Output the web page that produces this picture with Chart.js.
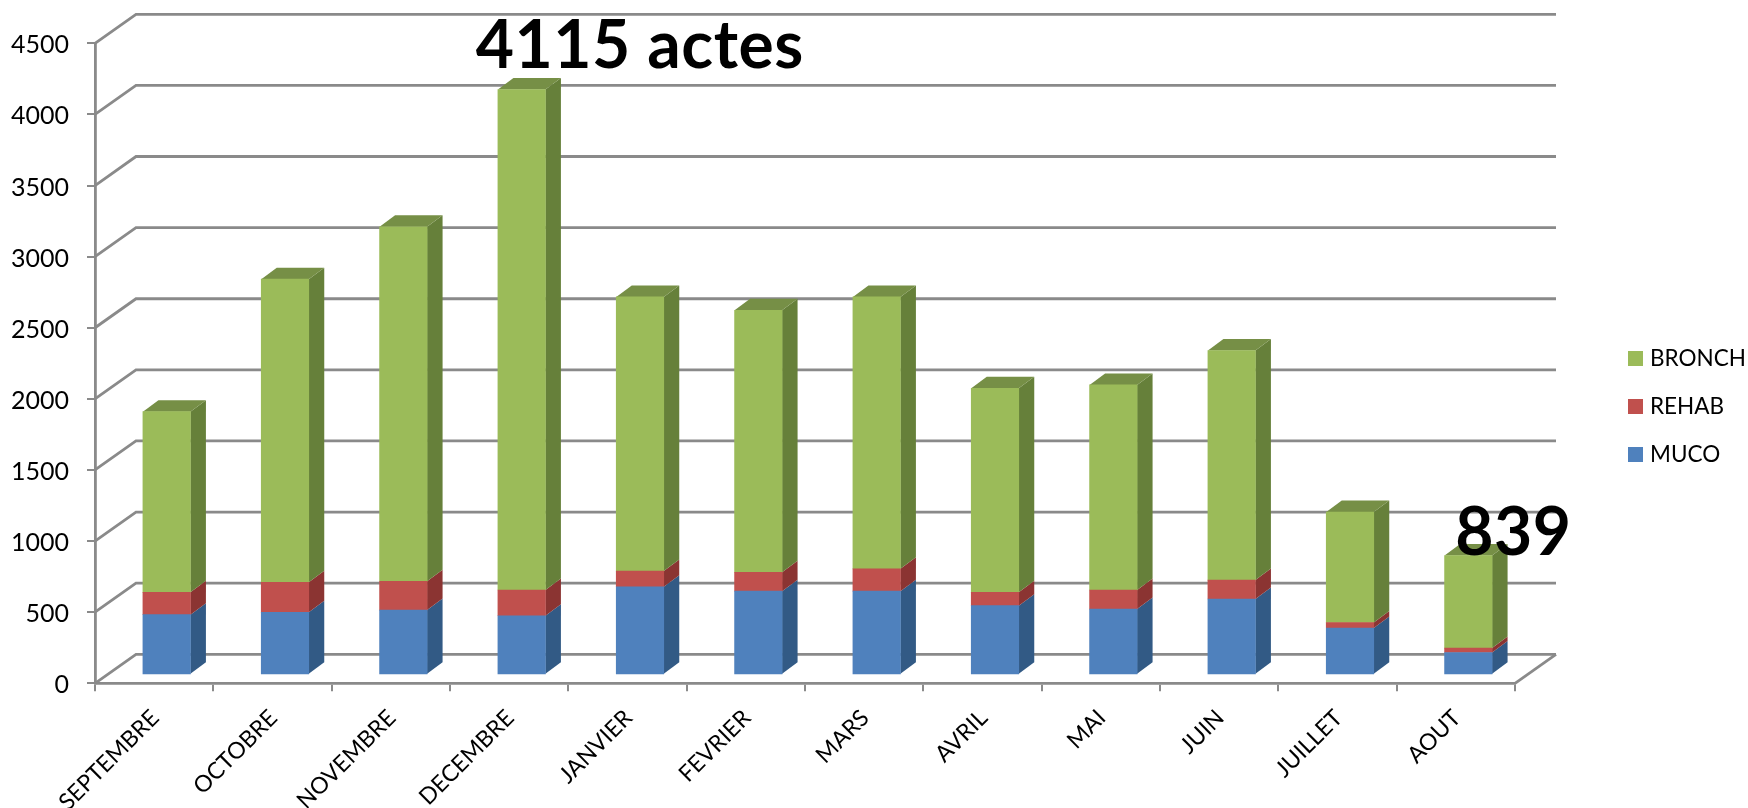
<!DOCTYPE html>
<html>
<head>
<meta charset="utf-8">
<title>Actes par mois</title>
<script src="https://cdn.jsdelivr.net/npm/chart.js@4"></script>
<style>
  html, body { margin: 0; padding: 0; background: #fff; overflow: hidden; }
  canvas { display: block; }
</style>
</head>
<body>
<canvas id="chart" width="1748" height="808"></canvas>
<script>
const months = ['SEPTEMBRE', 'OCTOBRE', 'NOVEMBRE', 'DECEMBRE', 'JANVIER', 'FEVRIER', 'MARS', 'AVRIL', 'MAI', 'JUIN', 'JUILLET', 'AOUT'];
const muco   = [423, 439, 455, 415, 619, 588, 588, 486, 462, 533, 329, 157];
const rehab  = [157, 211, 203, 181, 110, 133, 157, 94, 134, 133, 39, 31];
const bronch = [1270, 2132, 2492, 3519, 1928, 1842, 1912, 1434, 1442, 1614, 776, 651];
const yTicks = [0, 500, 1000, 1500, 2000, 2500, 3000, 3500, 4000, 4500];

const FONT = 'Lato, Carlito, sans-serif';
const AXIS_COLOR = '#8a8a8a';

// Oblique projection: the floor recedes up and to the right.
const WALL_DX = 41, WALL_DY = -29;
const BAR_DX = 12.5, BAR_DY = -8.5;
const SIDE_DX = 15.5, SIDE_DY = -11.5;

const shades = {
  MUCO:   { front: '#4f81bd', side: '#325a85', top: '#3d6798' },
  REHAB:  { front: '#c0504d', side: '#8b3432', top: '#9c403d' },
  BRONCH: { front: '#9bbb59', side: '#66803a', top: '#768f46' }
};

function poly(ctx, pts, fill) {
  ctx.fillStyle = fill;
  ctx.beginPath();
  pts.forEach((p, i) => i ? ctx.lineTo(p[0], p[1]) : ctx.moveTo(p[0], p[1]));
  ctx.closePath();
  ctx.fill();
}

// Back wall rules and floor edges, then the bars' receding faces.
const depthPlugin = {
  id: 'depth',
  beforeDatasetsDraw(chart) {
    const { ctx, chartArea: a, scales: { y } } = chart;
    ctx.save();
    ctx.strokeStyle = AXIS_COLOR;
    ctx.lineWidth = 2.8;
    yTicks.forEach(v => {
      const py = y.getPixelForValue(v);
      ctx.beginPath();
      ctx.moveTo(a.left, py);
      ctx.lineTo(a.left + WALL_DX, py + WALL_DY);
      ctx.lineTo(a.right + WALL_DX, py + WALL_DY);
      ctx.stroke();
    });
    ctx.beginPath();
    ctx.moveTo(a.right, a.bottom);
    ctx.lineTo(a.right + WALL_DX, a.bottom + WALL_DY);
    ctx.stroke();

    ctx.translate(BAR_DX, BAR_DY);
    const last = chart.data.datasets.length - 1;
    chart.data.datasets.forEach((ds, di) => {
      const s = shades[ds.label];
      chart.getDatasetMeta(di).data.forEach(bar => {
        const r = bar.x + bar.width / 2, t = bar.y, b = bar.base;
        poly(ctx, [[r, t], [r + SIDE_DX, t + SIDE_DY], [r + SIDE_DX, b + SIDE_DY], [r, b]], s.side);
        if (di === last) {
          const l = bar.x - bar.width / 2;
          poly(ctx, [[l, t], [l + SIDE_DX, t + SIDE_DY], [r + SIDE_DX, t + SIDE_DY], [r, t]], s.top);
        }
      });
    });
    ctx.restore();
    // Front faces share the same shift as the receding faces.
    ctx.save();
    ctx.translate(BAR_DX, BAR_DY);
  },
  afterDatasetsDraw(chart) {
    chart.ctx.restore();
  }
};

// Key on the right, and the two totals called out above their bars.
const annotationPlugin = {
  id: 'annotations',
  afterDraw(chart) {
    const { ctx, scales: { y } } = chart;
    ctx.save();
    ctx.textBaseline = 'middle';
    ctx.font = '22.5px ' + FONT;
    [...chart.data.datasets].reverse().forEach((ds, i) => {
      const top = 351 + i * 48;
      ctx.fillStyle = ds.backgroundColor;
      ctx.fillRect(1628, top, 15, 15);
      ctx.fillStyle = '#000';
      ctx.fillText(ds.label, 1650, top + 8);
    });

    const total = i => muco[i] + rehab[i] + bronch[i];
    const bars = chart.getDatasetMeta(2).data;
    ctx.fillStyle = '#000';
    ctx.textAlign = 'center';
    ctx.textBaseline = 'alphabetic';
    ctx.font = 'bold 66px ' + FONT;
    ctx.letterSpacing = '0.5px';
    const dec = months.indexOf('DECEMBRE'), aug = months.indexOf('AOUT');
    ctx.fillText(total(dec) + ' actes', bars[dec].x + BAR_DX + 118, y.getPixelForValue(total(dec)) + BAR_DY - 21.5);
    ctx.fillText(String(total(aug)), bars[aug].x + BAR_DX + 45, y.getPixelForValue(total(aug)) + BAR_DY - 0.5);
    ctx.restore();
  }
};

function series(label, values) {
  return {
    label,
    data: values,
    backgroundColor: shades[label].front,
    borderWidth: 0,
    barThickness: 47.5,
    stack: 'actes',
    clip: false
  };
}

new Chart(document.getElementById('chart'), {
  type: 'bar',
  data: {
    labels: months,
    datasets: [series('MUCO', muco), series('REHAB', rehab), series('BRONCH', bronch)]
  },
  options: {
    responsive: false,
    animation: false,
    events: [],
    layout: { padding: { left: 0, right: 233, top: 43.3, bottom: 0 } },
    plugins: { legend: { display: false }, tooltip: { enabled: false }, title: { display: false } },
    scales: {
      x: {
        stacked: true,
        afterFit(scale) { scale.height = 124.7; },
        grid: { offset: true, drawOnChartArea: false, drawTicks: true, tickLength: 8, color: AXIS_COLOR, lineWidth: 2 },
        border: { display: true, color: AXIS_COLOR, width: 2.8 },
        ticks: {
          autoSkip: false,
          minRotation: 45,
          maxRotation: 45,
          padding: 13,
          labelOffset: 1,
          color: '#000',
          font: { family: FONT, size: 23 }
        }
      },
      y: {
        stacked: true,
        min: 0,
        max: 4500,
        afterFit(scale) { scale.width = 95; },
        afterBuildTicks(scale) { scale.ticks = yTicks.map(value => ({ value })); },
        grid: { drawOnChartArea: false, drawTicks: true, tickLength: 8, color: AXIS_COLOR, lineWidth: 2 },
        border: { display: true, color: AXIS_COLOR, width: 2.8 },
        ticks: { padding: 18, labelOffset: 2, color: '#000', font: { family: FONT, size: 25 }, callback: value => String(value) }
      }
    }
  },
  plugins: [depthPlugin, annotationPlugin]
});
</script>
</body>
</html>
